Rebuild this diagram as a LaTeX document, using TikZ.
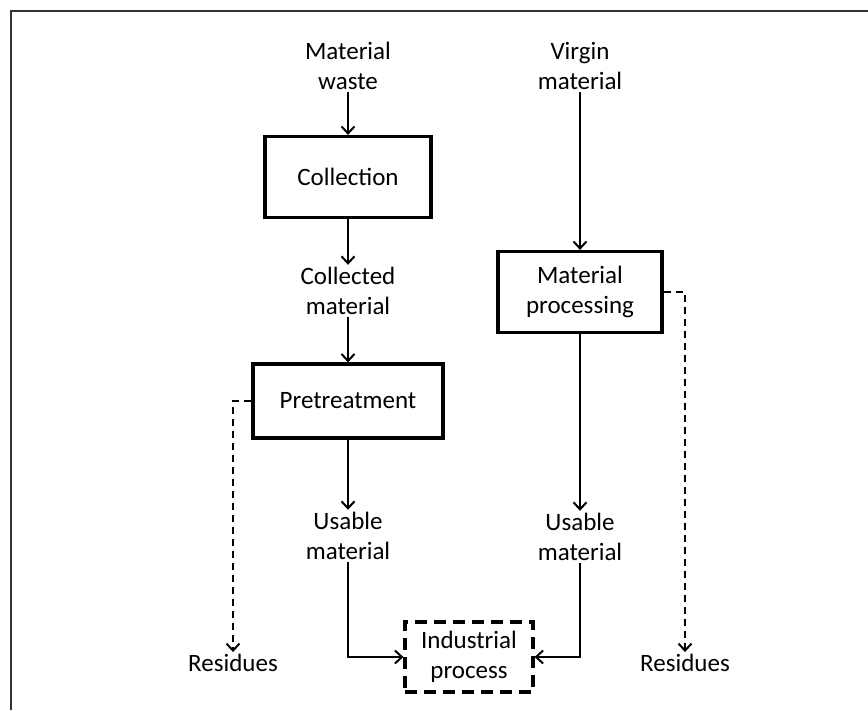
\documentclass[tikz,border=0pt]{standalone}
\usepackage{fontspec}
\setmainfont{Carlito}
\usetikzlibrary{arrows.meta}
\begin{document}
\begin{tikzpicture}[x=1pt,y=-1pt,
		font=\fontsize{25}{30.5}\selectfont,
		txt/.style={align=center,inner sep=2pt},
		box/.style={draw,line width=3.2pt,align=center,minimum width=#1},
		flow/.style={line width=2pt,-{Straight Barb[length=7pt,width=13pt,line width=2pt]}},
		resid/.style={flow,dash pattern=on 7pt off 5pt}]
				\useasboundingbox (0,0) rectangle (868,710);
				\draw[line width=1.5pt,black!80] (11,710) -- (11,11) -- (868,11);
				\node[txt] (waste) at (348,66) {Material\\waste};
				\node[box=166pt,minimum height=81pt] (coll) at (348,177) {Collection};
				\node[txt] (colled) at (348,291) {Collected\\material};
				\node[box=190pt,minimum height=74pt] (pret) at (348,401) {Pretreatment};
				\node[txt] (usableL) at (348,536) {Usable\\material};
				\node[txt] (virgin) at (580,66) {Virgin\\material};
				\node[box=164pt,minimum height=81pt] (proc) at (580,292) {Material\\processing};
				\node[txt] (usableR) at (580,537) {Usable\\material};
				\node[draw,line width=3.2pt,dash pattern=on 12pt off 7pt,align=center,minimum width=128pt,minimum height=70pt] (ind) at (469,657) {Industrial\\process};
				\node[txt] (resL) at (233,663) {Residues};
				\node[txt] (resR) at (685,663) {Residues};
				\draw[flow] (waste) -- (coll);
				\draw[flow] (coll) -- (colled);
				\draw[flow] (colled) -- (pret);
				\draw[flow] (pret.south) -- (usableL.north);
				\draw[flow] (virgin) -- (proc);
				\draw[flow] (proc.south) -- (usableR.north);
				\draw[flow] (usableL.south) |- (ind.west);
				\draw[flow] (usableR.south) |- (ind.east);
				\draw[resid] (pret.west) -| (resL.north);
				\draw[resid] (proc.east) -| (resR.north);
			\end{tikzpicture}
\end{document}
